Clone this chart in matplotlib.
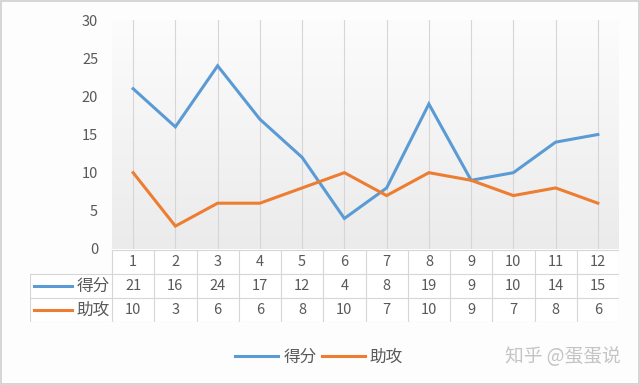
import numpy as np
import matplotlib
matplotlib.use('Agg')
import matplotlib.pyplot as plt
from matplotlib.lines import Line2D
from matplotlib.patches import Rectangle
from matplotlib.colors import LinearSegmentedColormap

plt.rcParams['font.family'] = ['Noto Sans CJK SC', 'DejaVu Sans']

# data
games = [1, 2, 3, 4, 5, 6, 7, 8, 9, 10, 11, 12]
points = [21, 16, 24, 17, 12, 4, 8, 19, 9, 10, 14, 15]
assists = [10, 3, 6, 6, 8, 10, 7, 10, 9, 7, 8, 6]
series_names = ['得分', '助攻']
colors = ['#5B9BD5', '#ED7D31']
text_col = '#595959'
grid_col = '#d6d6d6'

W, H = 640, 385
fig = plt.figure(figsize=(6.4, 3.85), dpi=100)
fig.patch.set_facecolor('#fdfdfd')

def px(l, t, r, b):
    return [l / W, 1 - b / H, (r - l) / W, (b - t) / H]

ax = fig.add_axes(px(112, 20, 619, 249))
ax.set_xlim(0.5, 12.5)
ax.set_ylim(0, 30)

# light gradient in the plot area (white at the top, pale grey at the bottom)
bg = LinearSegmentedColormap.from_list('bg', ['#fcfcfd', '#ebebeb'])
grad = np.linspace(0, 1, 100).reshape(-1, 1)
ax.imshow(grad, extent=[0.5, 12.5, 0, 30], aspect='auto', cmap=bg,
          origin='upper', zorder=0)

for g in games:
    ax.axvline(g, color=grid_col, lw=0.8, zorder=1)

ax.plot(games, points, color=colors[0], lw=2.2, zorder=3, solid_joinstyle='miter')
ax.plot(games, assists, color=colors[1], lw=2.2, zorder=3, solid_joinstyle='miter')

ax.set_yticks(range(0, 31, 5))
ax.tick_params(axis='y', length=0, labelsize=10.5, labelcolor=text_col, pad=10)
ax.set_xticks([])
for s in ax.spines.values():
    s.set_visible(False)

# data table below the plot
step = (619 - 112) / 12
lab_w = (112 - 30) / step
tab = fig.add_axes(px(30, 250, 619, 322))
tab.set_xlim(0.5 - lab_w, 12.5)
tab.set_ylim(3, 0)
tab.axis('off')
tab.patch.set_alpha(0)

tab.add_patch(Rectangle((0.5, 0), 12, 3, facecolor='white', edgecolor='none', zorder=0))
tab.add_patch(Rectangle((0.5 - lab_w, 1), lab_w, 2, facecolor='white', edgecolor='none', zorder=0))
for k in range(13):
    tab.plot([0.5 + k, 0.5 + k], [0, 3], color=grid_col, lw=0.8)
tab.plot([0.5 - lab_w, 0.5 - lab_w], [1, 3], color=grid_col, lw=0.8)
tab.plot([0.5, 12.5], [0, 0], color=grid_col, lw=0.8)
for r in [1, 2, 3]:
    tab.plot([0.5 - lab_w, 12.5], [r, r], color=grid_col, lw=0.8)

for g in games:
    tab.text(g, 0.5, str(g), ha='center', va='center', fontsize=10.5, color=text_col)
for row, vals in enumerate([points, assists]):
    for g, v in zip(games, vals):
        tab.text(g, row + 1.5, str(v), ha='center', va='center', fontsize=10.5, color=text_col)
    tab.plot([0.5 - lab_w + 0.1, 0.5 - lab_w + 1.0], [row + 1.5, row + 1.5],
             color=colors[row], lw=2.2)
    tab.text(0.5 - 0.05, row + 1.5, series_names[row], ha='right', va='center',
             fontsize=12, color=text_col)

# legend
handles = [Line2D([], [], color=c, lw=2.2) for c in colors]
fig.legend(handles, series_names, loc='center', bbox_to_anchor=(319 / W, 1 - 357 / H),
           ncol=2, frameon=False, fontsize=12, labelcolor=text_col,
           handlelength=2.6, handletextpad=0.3, columnspacing=0.3)

fig.text(505 / W, 1 - 357 / H, '知乎 @蛋蛋说', ha='left', va='center',
         fontsize=13.5, color='#c4c4c4')

fig.add_artist(Rectangle((0.001, 0.002), 0.997, 0.996, transform=fig.transFigure,
                         fill=False, edgecolor='#cfcfcf', lw=1.2))

fig.savefig('out.png', dpi=100, facecolor=fig.get_facecolor())
